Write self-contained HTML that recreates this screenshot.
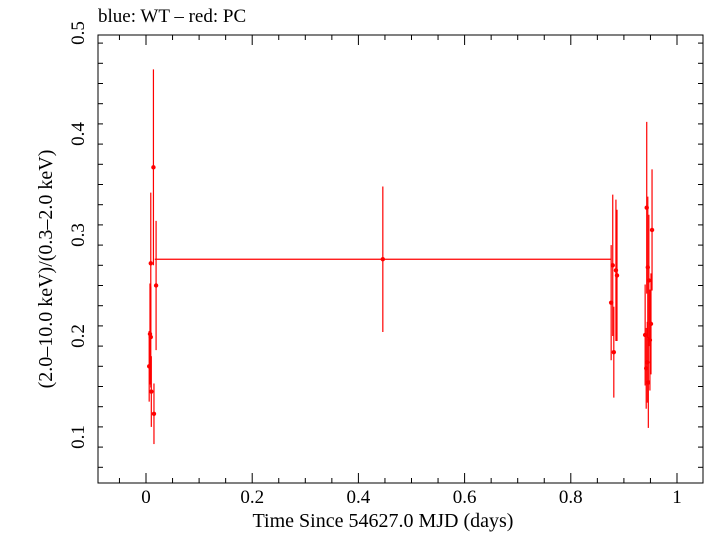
<!DOCTYPE html>
<html><head><meta charset="utf-8"><style>
body{margin:0;background:#fff}
svg text{font-family:"Liberation Serif",serif;fill:#000}
</style></head><body>
<svg id="chart" width="705" height="532" xmlns="http://www.w3.org/2000/svg">
<text x="98" y="22" font-size="19">blue: WT – red: PC</text>
<rect x="98" y="35" width="605" height="448" fill="none" stroke="#000" stroke-width="1"/>
<g id="axes"></g>
<g id="series"></g>
<text x="383" y="527" font-size="20" text-anchor="middle">Time Since 54627.0 MJD (days)</text>
<text transform="translate(52,269) rotate(-90)" font-size="20" text-anchor="middle">(2.0–10.0 keV)/(0.3–2.0 keV)</text>
</svg>
<script>
const xTicks=[0,0.2,0.4,0.6,0.8,1];
const yTicks=[0.1,0.2,0.3,0.4,0.5];
const tVals=[0.014,0.009,0.019,0.0075,0.009,0.006,0.010,0.015,0.446,0.876,0.879,0.881,0.885,0.887,0.940,0.942,0.943,0.945,0.947,0.951,0.953,0.944,0.949,0.946];
const tErr=[0.001,0.001,0.001,0.001,0.001,0.001,0.001,0.001,0.4295,0.001,0.001,0.001,0.001,0.001,0.001,0.001,0.001,0.001,0.001,0.001,0.001,0.001,0.001,0.001];
const ratio=[0.367,0.272,0.250,0.202,0.199,0.170,0.145,0.123,0.276,0.233,0.270,0.184,0.265,0.260,0.201,0.168,0.327,0.268,0.255,0.212,0.305,0.174,0.196,0.154];
const rErr=[0.097,0.070,0.064,0.050,0.050,0.035,0.035,0.030,0.072,0.057,0.070,0.045,0.070,0.065,0.050,0.040,0.085,0.070,0.065,0.050,0.060,0.040,0.050,0.045];
function X(v){return 146+v*531;}
function Y(v){return 134+(0.4-v)*1010;}
const NS="http://www.w3.org/2000/svg";
const ax=document.getElementById('axes');
function mk(tag,attrs,parent){const e=document.createElementNS(NS,tag);for(const k in attrs)e.setAttribute(k,attrs[k]);parent.appendChild(e);return e;}
for(let i=0;i<=22;i++){const v=-0.05+i*0.05;const x=X(v);if(x<98||x>703)continue;const major=Math.abs(v*5-Math.round(v*5))<1e-6;const L=major?10:5;
const t1=mk('line',{x1:x,x2:x,y1:483,y2:483-L,stroke:'#000'},ax);


const t2=mk('line',{x1:x,x2:x,y1:35,y2:35+L,stroke:'#000'},ax);

}
xTicks.forEach(v=>{const t=mk('text',{x:X(v),y:503,'font-size':19,'text-anchor':'middle'},ax);t.textContent=String(v);

});
for(let i=0;i<=25;i++){const v=0.05+i*0.02;const y=Y(v);if(y<35||y>483)continue;const major=Math.abs(v*10-Math.round(v*10))<1e-6;const L=major?10:5;
const t1=mk('line',{x1:98,x2:98+L,y1:y,y2:y,stroke:'#000'},ax);


const t2=mk('line',{x1:703,x2:703-L,y1:y,y2:y,stroke:'#000'},ax);

}
yTicks.forEach(v=>{const t=mk('text',{transform:`translate(84,${Y(v)}) rotate(-90)`,'font-size':19,'text-anchor':'middle'},ax);t.textContent=String(v);

});
const s=document.getElementById('series');
tVals.forEach((t,i)=>{const g=mk('g',{},s);


mk('line',{x1:X(t),x2:X(t),y1:Y(ratio[i]+rErr[i]),y2:Y(ratio[i]-rErr[i]),stroke:'#f00','stroke-width':1.2},g);
mk('line',{x1:X(t-tErr[i]),x2:X(t+tErr[i]),y1:Y(ratio[i]),y2:Y(ratio[i]),stroke:'#f00','stroke-width':1.2},g);
mk('circle',{cx:X(t),cy:Y(ratio[i]),r:2.2,fill:'#f00'},g);});
</script>
</body></html>
